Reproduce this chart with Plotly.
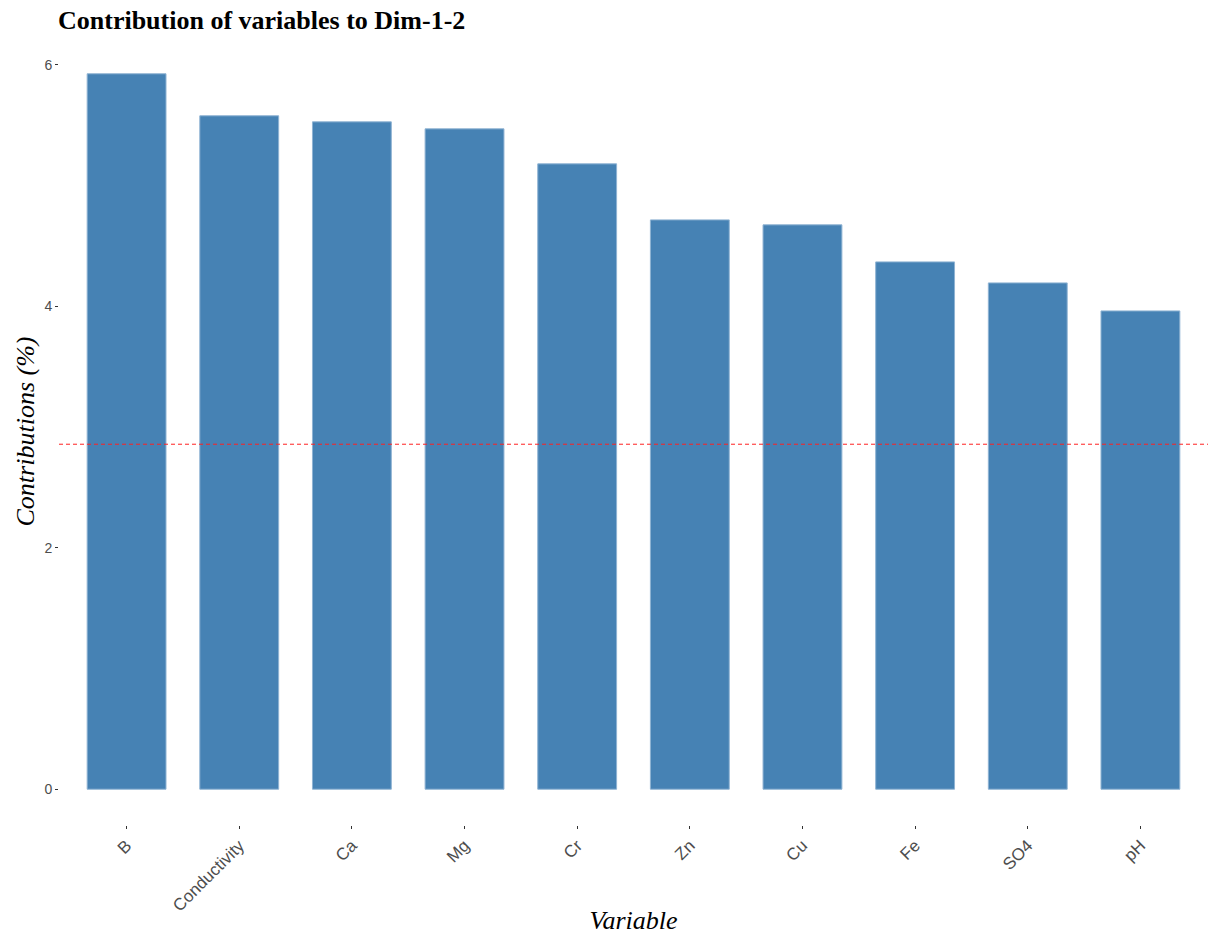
import plotly.graph_objects as go

variables = ["B", "Conductivity", "Ca", "Mg", "Cr", "Zn", "Cu", "Fe", "SO4", "pH"]
contributions = [5.925, 5.577, 5.527, 5.469, 5.179, 4.715, 4.674, 4.367, 4.193, 3.961]
expected = 100 / 35
y_ticks = [0, 2, 4, 6]

fig = go.Figure()
fig.add_trace(go.Bar(
    x=variables, y=contributions, width=0.7,
    marker=dict(color="#4682B4", line=dict(color="#8fb3d3", width=1)),
))
fig.add_shape(type="line", xref="paper", x0=0, x1=1, yref="y", y0=expected, y1=expected,
              line=dict(color="#ff2020", width=1, dash="4px,3px"))

ymax = max(contributions)
fig.update_layout(
    width=1208, height=935,
    margin=dict(l=59, r=0, t=38, b=110),
    plot_bgcolor="white", paper_bgcolor="white",
    showlegend=False,
    title=dict(text="<b>Contribution of variables to Dim-1-2</b>",
               font=dict(family="Liberation Serif", size=26, color="black"),
               x=58/1208, xanchor="left", y=1-20/935, yanchor="middle"),
    xaxis=dict(
        title=dict(text="<i>Variable</i>", font=dict(family="Liberation Serif", size=26, color="black"), standoff=14),
        range=[-0.6, len(variables) - 0.4], tickangle=-45, automargin=False,
        tickfont=dict(family="Liberation Sans", size=17, color="#4d4d4d"),
        ticks="outside", ticklen=3, tickcolor="#333333", showgrid=False, zeroline=False, showline=False,
    ),
    yaxis=dict(
        title=dict(text="<i>Contributions (%)</i>", font=dict(family="Liberation Serif", size=26, color="black"), standoff=2),
        range=[-0.05 * ymax, ymax * 1.05], tickvals=y_ticks, automargin=False,
        tickfont=dict(family="Liberation Sans", size=14, color="#4d4d4d"),
        ticks="outside", ticklen=3, tickcolor="#333333", showgrid=False, zeroline=False, showline=False,
    ),
)
fig.write_html("out.html")
